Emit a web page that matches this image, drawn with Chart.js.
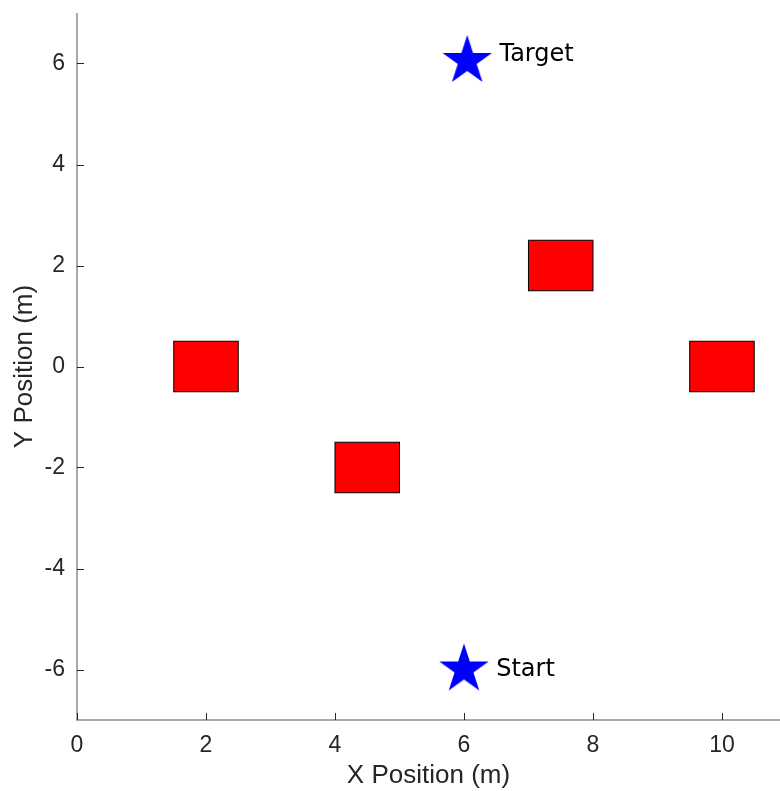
<!DOCTYPE html>
<html lang="en">
<head>
  <meta charset="UTF-8">
  <title>Obstacles map</title>
  <script src="https://cdn.jsdelivr.net/npm/chart.js"></script>
  <style>
    html, body { margin: 0; padding: 0; background: #fff; }
    #box { width: 780px; height: 791px; }
  </style>
</head>
<body>
  <div id="box"><canvas id="grafico"></canvas></div>

  <script>
    // obstacles: centre x, centre y, width, height (metres)
    const obsX = [2, 4.5, 7.5, 10];
    const obsY = [0, -2, 2, 0];
    const obsW = [1, 1, 1, 1];
    const obsH = [1, 1, 1, 1];

    // start / target stars
    const ptNames = ["Target", "Start"];
    const ptX = [6.05, 6];
    const ptY = [6.05, -6];
    // where the text of each star sits (data coords)
    const txtX = [6.55, 6.5];
    const txtY = [6.17, -6.01];

    const xTicks = [0, 2, 4, 6, 8, 10];
    const yTicks = [-6, -4, -2, 0, 2, 4, 6];

    // filled five point star for the markers
    function makeStar(R) {
      const c = document.createElement("canvas");
      const s = Math.ceil(R * 2 + 4);
      c.width = s; c.height = s;
      const g = c.getContext("2d");
      const r = R * 0.382;
      g.beginPath();
      for (let i = 0; i < 10; i++) {
        const a = -Math.PI / 2 + i * Math.PI / 5;
        const rr = i % 2 ? r : R;
        g.lineTo(s / 2 + rr * Math.cos(a), s / 2 + rr * Math.sin(a));
      }
      g.closePath();
      g.fillStyle = "#0000ff";
      g.fill();
      return c;
    }
    const star = makeStar(26);

    const obstaculos = {
      id: "obstaculos",
      beforeDatasetsDraw(chart) {
        const { ctx, scales: { x, y } } = chart;
        ctx.save();
        for (let i = 0; i < obsX.length; i++) {
          const x0 = x.getPixelForValue(obsX[i] - obsW[i] / 2);
          const x1 = x.getPixelForValue(obsX[i] + obsW[i] / 2);
          const y0 = y.getPixelForValue(obsY[i] + obsH[i] / 2);
          const y1 = y.getPixelForValue(obsY[i] - obsH[i] / 2);
          ctx.fillStyle = "#ff0000";
          ctx.fillRect(x0, y0, x1 - x0, y1 - y0);
          ctx.strokeStyle = "#000";
          ctx.lineWidth = 1;
          ctx.strokeRect(x0, y0, x1 - x0, y1 - y0);
        }
        ctx.restore();
      },
      afterDraw(chart) {
        const { ctx, scales: { x, y }, chartArea: a } = chart;
        ctx.save();
        // axis lines
        ctx.strokeStyle = "#8c8c8c";
        ctx.lineWidth = 1.5;
        ctx.beginPath();
        ctx.moveTo(a.left, a.top);
        ctx.lineTo(a.left, a.bottom);
        ctx.lineTo(a.right, a.bottom);
        ctx.stroke();
        // ticks pointing inwards
        ctx.strokeStyle = "#262626";
        ctx.lineWidth = 1;
        ctx.beginPath();
        xTicks.forEach(v => {
          const px = Math.round(x.getPixelForValue(v)) + 0.5;
          ctx.moveTo(px, a.bottom);
          ctx.lineTo(px, a.bottom - 7);
        });
        yTicks.forEach(v => {
          const py = Math.round(y.getPixelForValue(v)) + 0.5;
          ctx.moveTo(a.left, py);
          ctx.lineTo(a.left + 7, py);
        });
        ctx.stroke();
        // star labels
        ctx.fillStyle = "#000";
        ctx.font = "24px 'DejaVu Sans'";
        ctx.textBaseline = "middle";
        ctx.textAlign = "left";
        for (let i = 0; i < ptNames.length; i++) {
          ctx.fillText(ptNames[i], x.getPixelForValue(txtX[i]), y.getPixelForValue(txtY[i]));
        }
        ctx.restore();
      }
    };

    const ctx = document.getElementById("grafico").getContext("2d");
    new Chart(ctx, {
      type: "scatter",
      data: {
        datasets: [{
          label: "pontos",
          data: ptX.map((v, i) => ({ x: v, y: ptY[i] })),
          pointStyle: star,
          pointRadius: 26
        }]
      },
      options: {
        responsive: true,
        maintainAspectRatio: false,
        animation: false,
        layout: { autoPadding: false, padding: { top: 13, right: 0, left: 0, bottom: 0 } },
        plugins: { legend: { display: false }, tooltip: { enabled: false } },
        scales: {
          x: {
            type: "linear",
            min: 0,
            max: 10.9,
            afterFit: s => { s.height = 71; s.paddingLeft = 0; s.paddingRight = 0; },
            afterBuildTicks: s => { s.ticks = xTicks.map(v => ({ value: v })); },
            grid: { display: false, drawTicks: false },
            border: { display: false },
            ticks: {
              color: "#262626",
              padding: 12,
              maxRotation: 0,
              font: { family: "'Liberation Sans', Arial", size: 23 }
            },
            title: {
              display: true,
              text: "X Position (m)",
              color: "#262626",
              padding: { top: 0, bottom: 0 },
              font: { family: "'Liberation Sans', Arial", size: 26 }
            }
          },
          y: {
            type: "linear",
            min: -7,
            max: 7,
            afterFit: s => { s.width = 77; s.paddingTop = 0; s.paddingBottom = 0; },
            afterBuildTicks: s => { s.ticks = yTicks.map(v => ({ value: v })); },
            grid: { display: false, drawTicks: false },
            border: { display: false },
            ticks: {
              color: "#262626",
              padding: 12,
              font: { family: "'Liberation Sans', Arial", size: 23 }
            },
            title: {
              display: true,
              text: "Y Position (m)",
              color: "#262626",
              padding: { top: 9, bottom: 0 },
              font: { family: "'Liberation Sans', Arial", size: 26 }
            }
          }
        }
      },
      plugins: [obstaculos]
    });
  </script>
</body>
</html>
